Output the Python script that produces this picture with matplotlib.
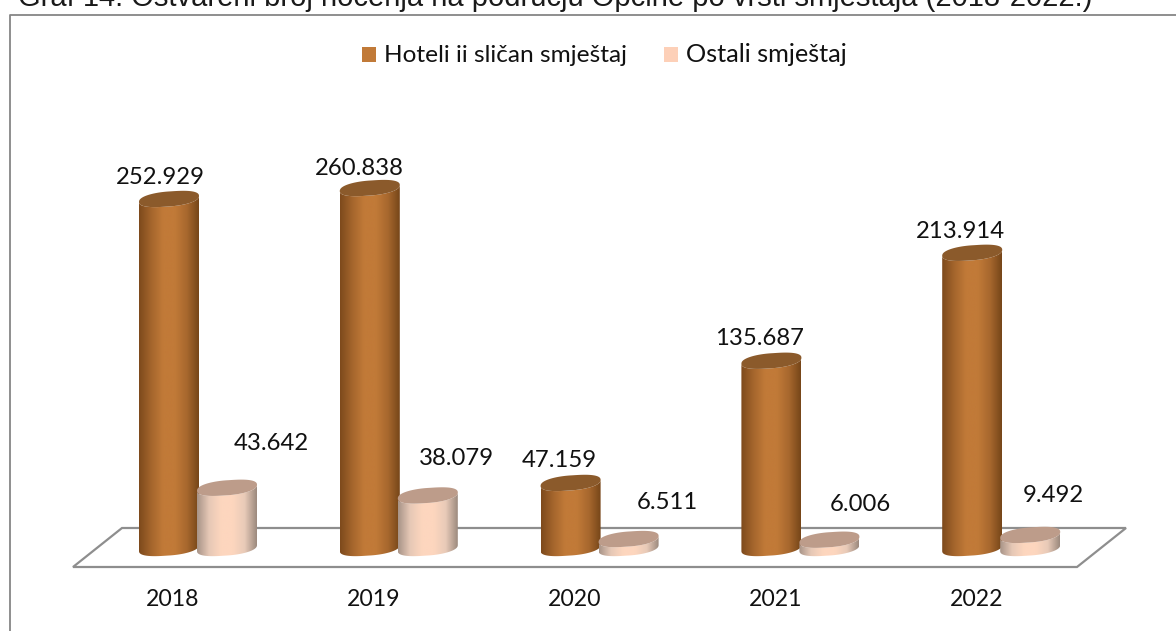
import numpy as np
import matplotlib
matplotlib.use('Agg')
import matplotlib.pyplot as plt
from matplotlib.patches import Polygon, PathPatch, Rectangle
from matplotlib.path import Path
from matplotlib.colors import LinearSegmentedColormap

years = ['2018', '2019', '2020', '2021', '2022']
hoteli = [252929, 260838, 47159, 135687, 213914]
ostali = [43642, 38079, 6511, 6006, 9492]
hoteli_labels = ['252.929', '260.838', '47.159', '135.687', '213.914']
ostali_labels = ['43.642', '38.079', '6.511', '6.006', '9.492']
series_names = ['Hoteli ii sličan smještaj', 'Ostali smještaj']
title = 'Graf 14. Ostvareni broj noćenja na području Općine po vrsti smještaja (2018-2022.)'

W, H = 1176, 631
PX_X = 200.8          # pixels per category
PX_Y = 0.00138        # pixels per value
X0_PX, Y0_PX = 198, 548

fig = plt.figure(figsize=(W / 100, H / 100), dpi=100)
fig.patch.set_facecolor('white')
ax = fig.add_axes([0, 0, 1, 1])
# data coordinates: x = category index, y = value
ax.set_xlim(-X0_PX / PX_X, (W - X0_PX) / PX_X)
ax.set_ylim((Y0_PX - H) / PX_Y, Y0_PX / PX_Y)
ax.axis('off')


def px(x, y):
    return ax.transData.inverted().transform((x, H - y))


def lab(size=17.2):
    return dict(family='Lato', fontsize=size, color='#111111', ha='center', va='center')


# outer frame, runs off the right and bottom edge
ax.plot(*zip(px(10, H + 5), px(10, 15), px(W + 5, 15)), color='#868686', lw=1.3, clip_on=False)

# title is cut by the top of the picture
fig.text(18 / W, 1 - 6 / H, title, family='Liberation Sans', fontsize=21, color='#1a1a1a',
         ha='left', va='baseline')

# floor
floor = [px(73, 567), px(1077, 567), px(1126, 528), px(122, 528)]
ax.add_patch(Polygon(floor, closed=True, fc='white', ec='#8e8e8e', lw=1.6, joinstyle='miter', zorder=1))

cmap_h = LinearSegmentedColormap.from_list('h', ['#7d4a1c', '#a4652c', '#c17a38', '#c17a38', '#a8682e', '#764619'])
cmap_o = LinearSegmentedColormap.from_list('o', ['#a89488', '#e6c8b6', '#fdd6be', '#fdd6be', '#e8cab8', '#9c8a7e'])
grad = np.linspace(0, 1, 128).reshape(1, -1)

half_w = 30 / PX_X
minor = 7.5 / PX_Y
shear = 3 / PX_Y


def rim(t):
    # slightly fuller than a true ellipse, like the source render
    c = np.sign(np.cos(t)) * np.abs(np.cos(t)) ** 0.85
    s = np.sign(np.sin(t)) * np.abs(np.sin(t)) ** 0.85
    return c, s


def cylinder(cx, value, cmap, top_color, z):
    base_y = 0
    top_y = value
    # front of the body, bottom edge then top edge
    t = np.linspace(np.pi, 2 * np.pi, 60)
    c, s = rim(t)
    bot = np.column_stack([cx + half_w * c, base_y + minor * s + shear * np.cos(t)])
    top = np.column_stack([cx + half_w * c, top_y + minor * s + shear * np.cos(t)])[::-1]
    body = np.vstack([bot, top, bot[:1]])
    patch = PathPatch(Path(body), fc='none', ec='none', zorder=z)
    ax.add_patch(patch)
    ymin, ymax = -minor - shear, top_y + minor + shear
    im = ax.imshow(grad, cmap=cmap, extent=[cx - half_w, cx + half_w, ymin, ymax],
                   aspect='auto', zorder=z, interpolation='bilinear')
    im.set_clip_path(patch)
    a = np.linspace(0, 2 * np.pi, 120)
    c, s = rim(a)
    cap = np.column_stack([cx + half_w * c, top_y + minor * s + shear * np.cos(a)])
    ax.add_patch(Polygon(cap, closed=True, fc=top_color, ec='none', zorder=z + 0.1))


offset_h = 29 / PX_X
offset_o = 29 / PX_X
for i in range(len(years)):
    cylinder(i - offset_h, hoteli[i], cmap_h, '#8b5a2b', 3)
    cylinder(i + offset_o, ostali[i], cmap_o, '#bd9c8a', 4)

ax.set_xlim(-X0_PX / PX_X, (W - X0_PX) / PX_X)
ax.set_ylim((Y0_PX - H) / PX_Y, Y0_PX / PX_Y)

# data labels, hand placed in the source chart (pixels from the bar top)
hoteli_gap = [21, 20, 22, 22, 21]
hoteli_dx = [-9, -10, -11, -12, -12]
ostali_gap = [44, 37, 37, 35, 39]
ostali_dx = [44, 29, 39, 31, 23]
for i in range(len(years)):
    ax.annotate(hoteli_labels[i], (i - offset_h, hoteli[i]), xytext=(hoteli_dx[i] * 0.72, hoteli_gap[i] * 0.72),
                textcoords='offset points', zorder=6, **lab())
    ax.annotate(ostali_labels[i], (i + offset_o, ostali[i]), xytext=(ostali_dx[i] * 0.72, ostali_gap[i] * 0.72),
                textcoords='offset points', zorder=6, **lab())
    ax.annotate(years[i], (i, 0), xytext=(-25 * 0.72, -51 * 0.72),
                textcoords='offset points', **lab(16.6))

# legend
for name, color, box_x, text_x, size in [(series_names[0], '#c17a38', 362, 384, 17.6),
                                         (series_names[1], '#fdd0b8', 664, 686, 18.2)]:
    ax.add_patch(Rectangle(px(box_x, 62), 14 / PX_X, 15 / PX_Y, fc=color, ec='none', zorder=5))
    x, y = px(text_x, 55)
    ax.text(x, y, name, family='Lato', fontsize=size, color='#111111', ha='left', va='center')

fig.savefig('out.png', dpi=100)
